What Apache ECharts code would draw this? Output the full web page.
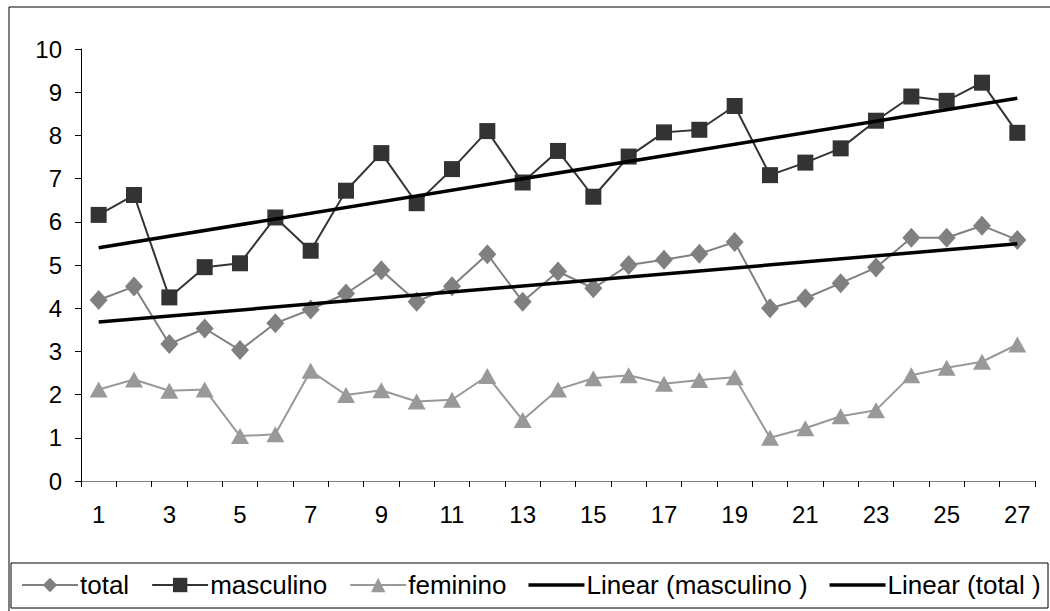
<!DOCTYPE html>
<html>
<head>
<meta charset="utf-8">
<script src="https://cdn.jsdelivr.net/npm/echarts@6/dist/echarts.min.js"></script>
<style>
  html, body { margin: 0; padding: 0; background: #fff; }
  #chart { width: 1050px; height: 611px; }
</style>
</head>
<body>
<div id="chart"></div>
<script>
// categories 1..27
const categories = ['1', '2', '3', '4', '5', '6', '7', '8', '9', '10', '11', '12', '13', '14',
  '15', '16', '17', '18', '19', '20', '21', '22', '23', '24', '25', '26', '27']

const total = [4.19, 4.50, 3.17, 3.53, 3.03, 3.65, 3.97, 4.34, 4.88, 4.15, 4.51, 5.25, 4.15, 4.85,
  4.46, 5.00, 5.12, 5.26, 5.53, 4.00, 4.23, 4.58, 4.94, 5.63, 5.63, 5.91, 5.58]
const masculino = [6.16, 6.62, 4.25, 4.95, 5.04, 6.10, 5.33, 6.72, 7.59, 6.43, 7.22, 8.10, 6.91, 7.64,
  6.58, 7.51, 8.07, 8.13, 8.68, 7.08, 7.37, 7.70, 8.34, 8.90, 8.80, 9.22, 8.06]
const feminino = [2.12, 2.35, 2.09, 2.12, 1.04, 1.08, 2.55, 1.99, 2.10, 1.84, 1.88, 2.43, 1.41, 2.12,
  2.38, 2.45, 2.25, 2.34, 2.40, 1.00, 1.22, 1.50, 1.64, 2.45, 2.62, 2.76, 3.16]

// trend line end points (first and last category)
const trendMasculino = [5.40, 8.86]
const trendTotal = [3.68, 5.49]

const yTicks = { min: 0, max: 10, interval: 1 }

const font = 'Liberation Sans, Arial, sans-serif'
const last = categories.length - 1
const lineIcon = 'path://M0,0h56v3.5h-56z'

const chart = echarts.init(document.getElementById('chart'), null, { renderer: 'svg' })

chart.setOption({
  animation: false,
  textStyle: { fontFamily: font },
  grid: { left: 81, right: 15, top: 49, bottom: 130 },
  graphic: [
    { type: 'rect', shape: { x: 9, y: 7, width: 1060, height: 640 }, style: { fill: 'none', stroke: '#000', lineWidth: 1 }, silent: true },
    { type: 'rect', shape: { x: 11, y: 563, width: 1037, height: 45 }, style: { fill: '#fff', stroke: '#000', lineWidth: 1 }, silent: true, z: 1 }
  ],
  legend: {
    left: 16,
    top: 567,
    z: 5,
    itemWidth: 56,
    itemHeight: 18,
    itemGap: 22,
    textStyle: { fontFamily: font, fontSize: 26, color: '#000', padding: [0, 0, 0, -3] },
    data: [
      { name: 'total' },
      { name: 'masculino' },
      { name: 'feminino' },
      { name: 'Linear (masculino )', icon: lineIcon },
      { name: 'Linear (total )', icon: lineIcon }
    ]
  },
  xAxis: {
    type: 'category',
    data: categories,
    boundaryGap: true,
    axisLine: { lineStyle: { color: '#808080', width: 1 } },
    axisTick: { show: true, interval: 0, length: 6, lineStyle: { color: '#000' } },
    axisLabel: { interval: 1, margin: 21, fontSize: 24, color: '#000', fontFamily: font },
    splitLine: { show: false }
  },
  yAxis: {
    type: 'value',
    min: yTicks.min,
    max: yTicks.max,
    interval: yTicks.interval,
    axisLine: { show: true, lineStyle: { color: '#000', width: 1 } },
    axisTick: { show: true, length: 6, lineStyle: { color: '#000' } },
    axisLabel: { margin: 19, fontSize: 24, color: '#000', fontFamily: font },
    splitLine: { show: false }
  },
  series: [
    {
      name: 'total',
      type: 'line',
      data: total,
      symbol: 'diamond',
      symbolSize: [18, 20],
      itemStyle: { color: '#808080' },
      lineStyle: { color: '#808080', width: 2 },
      z: 2
    },
    {
      name: 'masculino',
      type: 'line',
      data: masculino,
      symbol: 'rect',
      symbolSize: 16,
      itemStyle: { color: '#333333' },
      lineStyle: { color: '#333333', width: 2 },
      z: 3
    },
    {
      name: 'feminino',
      type: 'line',
      data: feminino,
      symbol: 'triangle',
      symbolSize: [18, 16],
      itemStyle: { color: '#999999' },
      lineStyle: { color: '#999999', width: 2 },
      z: 2
    },
    {
      name: 'Linear (masculino )',
      type: 'line',
      data: [[0, trendMasculino[0]], [last, trendMasculino[1]]],
      symbol: 'none',
      itemStyle: { color: '#000' },
      lineStyle: { color: '#000', width: 3.5 },
      z: 4
    },
    {
      name: 'Linear (total )',
      type: 'line',
      data: [[0, trendTotal[0]], [last, trendTotal[1]]],
      symbol: 'none',
      itemStyle: { color: '#000' },
      lineStyle: { color: '#000', width: 3.5 },
      z: 4
    }
  ]
})
</script>
</body>
</html>
